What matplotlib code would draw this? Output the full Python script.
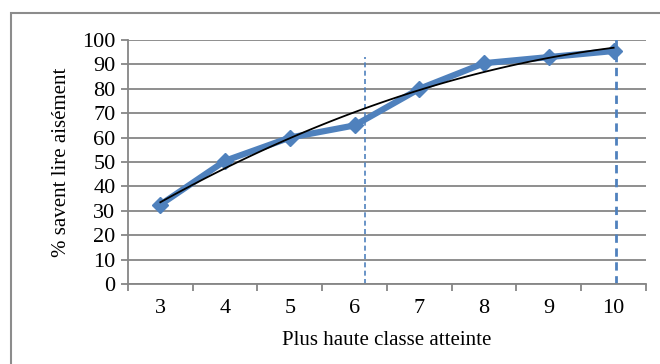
import numpy as np
import matplotlib.pyplot as plt
from matplotlib.patches import Rectangle

classes = ['3', '4', '5', '6', '7', '8', '9', '10']
pct_lire = [32.5, 50.5, 60, 65, 80, 90.5, 93, 95.5]

blue = '#4F81BD'
grid_col = '#868686'

plt.rcParams['font.family'] = ['Liberation Serif', 'DejaVu Serif']

fig = plt.figure(figsize=(6.6, 3.64), dpi=100)
ax = fig.add_axes([0.1939, 0.2198, 0.7849, 0.6703])

x = np.arange(len(classes))
ax.plot(x, pct_lire, color=blue, lw=4.5, marker='D', markersize=8, zorder=3)

# trendline, polynomial order 2 (Excel style)
coef = np.polyfit(x + 1, pct_lire, 2)
xs = np.linspace(0, len(classes) - 1, 100)
ax.plot(xs, np.polyval(coef, xs + 1), color='black', lw=1.3, zorder=4)

# dashed markers
ax.plot([3.16, 3.16], [0, 93], color=blue, lw=1.2, ls=(0, (3, 2)), zorder=2)
ax.plot([7.04, 7.04], [0, 105], color=blue, lw=2, ls=(0, (3, 2)), zorder=2)

ax.set_xlim(-0.5, len(classes) - 0.5)
ax.set_ylim(0, 100)
ax.set_yticks(range(0, 101, 10))
ax.set_xticks(x)
ax.set_xticklabels(classes)
ax.set_xticks(np.arange(-0.5, len(classes), 1), minor=True)
ax.tick_params(axis='x', which='major', length=0, pad=11, labelsize=16)
ax.tick_params(axis='x', which='minor', length=5, width=1.3, color=grid_col)
ax.tick_params(axis='y', length=5, width=1.3, color=grid_col, labelsize=16, pad=4)
ax.yaxis.grid(True, color=grid_col, lw=1.3)
ax.set_axisbelow(True)
for s in ['top', 'right']:
    ax.spines[s].set_visible(False)
for s in ['left', 'bottom']:
    ax.spines[s].set_color(grid_col)
    ax.spines[s].set_linewidth(1.3)

ax.set_xlabel('Plus haute classe atteinte', fontsize=15, labelpad=9)
ax.set_ylabel('% savent lire aisément', fontsize=15, labelpad=8)

fig.patches.append(Rectangle((11 / 660, -0.2), 1.2, 1.2 - 13 / 364,
                             transform=fig.transFigure, fill=False,
                             edgecolor='#8c8c8c', lw=1.5))

fig.savefig('out.png', dpi=100)
